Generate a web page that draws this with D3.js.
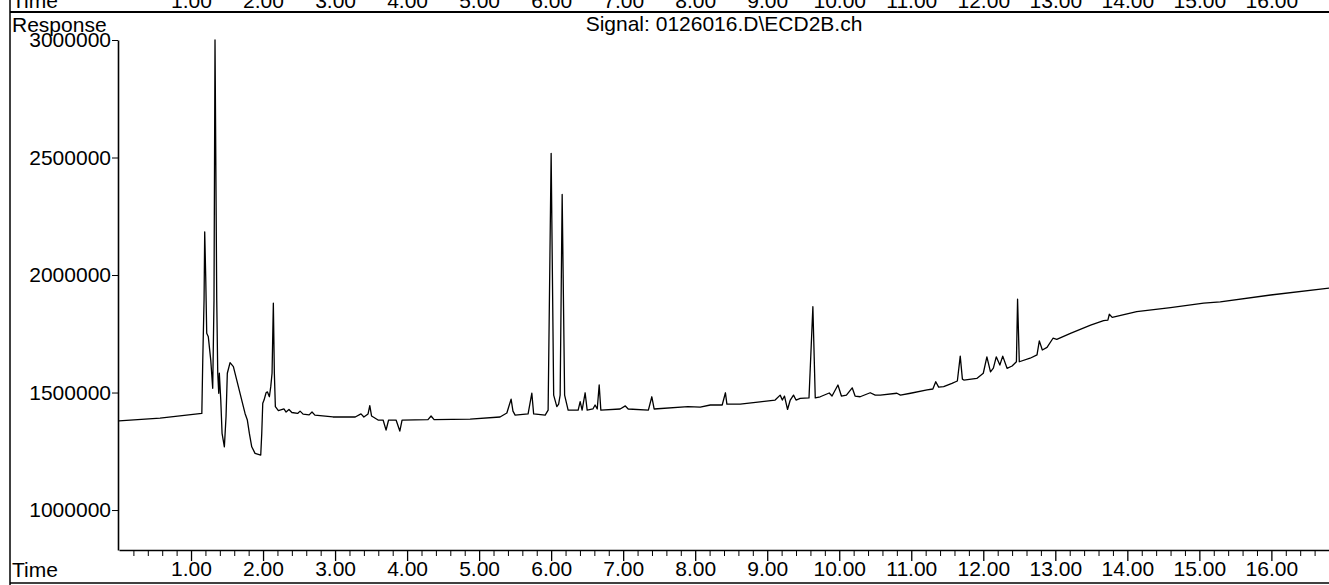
<!DOCTYPE html>
<html>
<head>
<meta charset="utf-8">
<script src="https://cdn.jsdelivr.net/npm/d3@7"></script>
<style>
  html, body { margin: 0; padding: 0; background: #fff; }
  svg { display: block; }
  text { font-family: "Liberation Sans", Arial, sans-serif; fill: #000; }
</style>
</head>
<body>
<svg id="chart" width="1329" height="585"></svg>
<script>
// ---- data (retention time in minutes, detector response) ----
const times = [
  0.00, 0.57, 1.15, 1.163, 1.181, 1.19, 1.204, 1.218, 1.24, 1.274, 1.301, 1.319, 1.333, 1.357,
  1.371, 1.385, 1.393, 1.413, 1.431, 1.463, 1.486, 1.504, 1.542, 1.588, 1.635, 1.704, 1.75,
  1.782, 1.81, 1.843, 1.889, 1.968, 1.982, 1.996, 2.014, 2.042, 2.06, 2.088, 2.107, 2.125,
  2.143, 2.157, 2.171, 2.213, 2.29, 2.32, 2.36, 2.40, 2.48, 2.514, 2.556, 2.64, 2.68, 2.72,
  2.97, 3.28, 3.36, 3.40, 3.458, 3.482, 3.507, 3.597, 3.667, 3.708, 3.743, 3.847, 3.899, 3.93,
  4.29, 4.333, 4.375, 4.875, 5.29, 5.385, 5.444, 5.47, 5.50, 5.68, 5.732, 5.757, 5.917, 5.958,
  6.00, 6.035, 6.079, 6.104, 6.125, 6.153, 6.187, 6.236, 6.375, 6.403, 6.43, 6.472, 6.50,
  6.58, 6.61, 6.64, 6.667, 6.69, 6.958, 7.03, 7.07, 7.35, 7.398, 7.43, 7.90, 8.07, 8.21,
  8.375, 8.42, 8.44, 8.625, 8.90, 9.11, 9.18, 9.21, 9.24, 9.282, 9.32, 9.365, 9.40, 9.458,
  9.58, 9.634, 9.667, 9.736, 9.861, 9.90, 9.982, 10.03, 10.10, 10.18, 10.22, 10.29, 10.43,
  10.50, 10.57, 10.80, 10.85, 10.99, 11.22, 11.30, 11.34, 11.38, 11.45, 11.565, 11.64, 11.68,
  11.71, 11.73, 11.91, 12.00, 12.05, 12.10, 12.14, 12.18, 12.23, 12.27, 12.33, 12.40, 12.46,
  12.476, 12.50, 12.65, 12.746, 12.778, 12.82, 12.885, 12.968, 13.02, 13.21, 13.49, 13.67,
  13.73, 13.75, 13.79, 14.13, 14.60, 15.06, 15.29, 15.99, 16.81
];
const responses = [
  1379000, 1391000, 1411000, 1638000, 1894000, 2184000, 1993000, 1752000, 1737000, 1638000, 1518000, 1894000, 3000000, 1894000,
  1582000, 1497000, 1582000, 1468000, 1326000, 1269000, 1397000, 1582000, 1627000, 1610000, 1553000, 1468000, 1411000,
  1383000, 1326000, 1269000, 1241000, 1234000, 1326000, 1454000, 1468000, 1499000, 1503000, 1482000, 1525000, 1582000,
  1880000, 1582000, 1440000, 1423000, 1430000, 1417000, 1428000, 1415000, 1411000, 1421000, 1408000, 1405000, 1417000, 1404000,
  1396000, 1396000, 1409000, 1396000, 1409000, 1444000, 1400000, 1383000, 1383000, 1340000, 1383000, 1383000, 1336000, 1383000,
  1385000, 1400000, 1385000, 1387000, 1396000, 1413000, 1472000, 1421000, 1404000, 1409000, 1497000, 1409000, 1404000, 1425000,
  2518000, 1489000, 1440000, 1451000, 1489000, 2343000, 1489000, 1425000, 1425000, 1461000, 1425000, 1499000, 1425000,
  1430000, 1447000, 1430000, 1532000, 1425000, 1430000, 1443000, 1430000, 1425000, 1482000, 1430000, 1440000, 1438000, 1447000,
  1447000, 1499000, 1451000, 1451000, 1460000, 1468000, 1489000, 1468000, 1485000, 1428000, 1468000, 1489000, 1468000, 1475000,
  1477000, 1865000, 1477000, 1482000, 1498000, 1485000, 1532000, 1485000, 1489000, 1520000, 1485000, 1482000, 1499000,
  1489000, 1489000, 1497000, 1489000, 1497000, 1511000, 1515000, 1546000, 1523000, 1525000, 1539000, 1549000, 1655000,
  1557000, 1553000, 1560000, 1582000, 1652000, 1588000, 1604000, 1652000, 1617000, 1655000, 1603000, 1613000, 1631000,
  1897000, 1631000, 1646000, 1660000, 1720000, 1681000, 1692000, 1731000, 1726000, 1752000, 1787000, 1806000,
  1808000, 1833000, 1820000, 1844000, 1861000, 1880000, 1886000, 1915000, 1945000
];
const majorTimeTicks = [1, 2, 3, 4, 5, 6, 7, 8, 9, 10, 11, 12, 13, 14, 15, 16];
const responseTicks = [1000000, 1500000, 2000000, 2500000, 3000000];
const titleText = "Signal: 0126016.D\\ECD2B.ch";
const yLabel = "Response";
const xLabel = "Time";

// ---- drawing ----
const svg = d3.select("#chart");
const W = 1329, H = 585;
const x = d3.scaleLinear().domain([0, 16.8]).range([119, 1329]);
const y = d3.scaleLinear().domain([830000, 3000000]).range([550, 40]);
const minorTimeTicks = d3.range(1, 85).map(i => i * 0.2).filter(v => Math.abs(v - Math.round(v)) > 1e-6);

// frame lines of the printout
svg.append("line").attr("x1", 10).attr("x2", W).attr("y1", 12).attr("y2", 12)
  .attr("stroke", "#000").attr("stroke-width", 2);
svg.append("line").attr("x1", 10).attr("x2", 10).attr("y1", 0).attr("y2", H)
  .attr("stroke", "#000").attr("stroke-width", 1.5);
svg.append("line").attr("x1", 10).attr("x2", W).attr("y1", 583).attr("y2", 583)
  .attr("stroke", "#000").attr("stroke-width", 1.5);

// top strip (cut-off time labels of the previous panel)
const topAxis = svg.append("g").attr("transform", "translate(0,0)")
  .call(d3.axisBottom(x).tickValues(majorTimeTicks).tickFormat(d3.format(".2f")).tickSize(0));
topAxis.select(".domain").remove();
topAxis.selectAll("text").attr("y", 8).attr("dy", 0).style("font-size", "21px");
svg.append("text").attr("x", 12).attr("y", 8).style("font-size", "21px").text(xLabel);

// x axis (major + minor)
const xAxisG = svg.append("g").attr("transform", "translate(0,550)");
xAxisG.call(d3.axisBottom(x).tickValues(minorTimeTicks).tickSizeInner(6).tickSizeOuter(0).tickFormat(""));
xAxisG.select(".domain").attr("stroke-width", 1.6);
const xMajor = svg.append("g").attr("transform", "translate(0,550)")
  .call(d3.axisBottom(x).tickValues(majorTimeTicks).tickSizeInner(11).tickSizeOuter(0).tickFormat(d3.format(".2f")));
xMajor.select(".domain").remove();
xMajor.selectAll("text").attr("y", 26).attr("dy", 0).style("font-size", "21px");
xMajor.selectAll("line").attr("stroke-width", 1.3);
svg.append("text").attr("x", 12).attr("y", 577).style("font-size", "21px").text(xLabel);

// y axis
const yAxisG = svg.append("g").attr("transform", "translate(118,0)")
  .call(d3.axisLeft(y).tickValues(responseTicks).tickSizeInner(6).tickSizeOuter(0)
    .tickPadding(1).tickFormat(d3.format("d")));
yAxisG.select(".domain").attr("stroke-width", 1.6);
yAxisG.selectAll("text").style("font-size", "21px");
svg.append("text").attr("x", 12).attr("y", 32).style("font-size", "21px").text(yLabel);

// title
svg.append("text").attr("x", 724).attr("y", 31).attr("text-anchor", "middle")
  .style("font-size", "21px").text(titleText);

// chromatogram trace
const pts = times.map((t, i) => [t, responses[i]]);
svg.append("path").datum(pts)
  .attr("fill", "none").attr("stroke", "#000").attr("stroke-width", 1.3)
  .attr("stroke-linejoin", "round")
  .attr("d", d3.line().x(d => x(d[0])).y(d => y(d[1])));
</script>
</body>
</html>
